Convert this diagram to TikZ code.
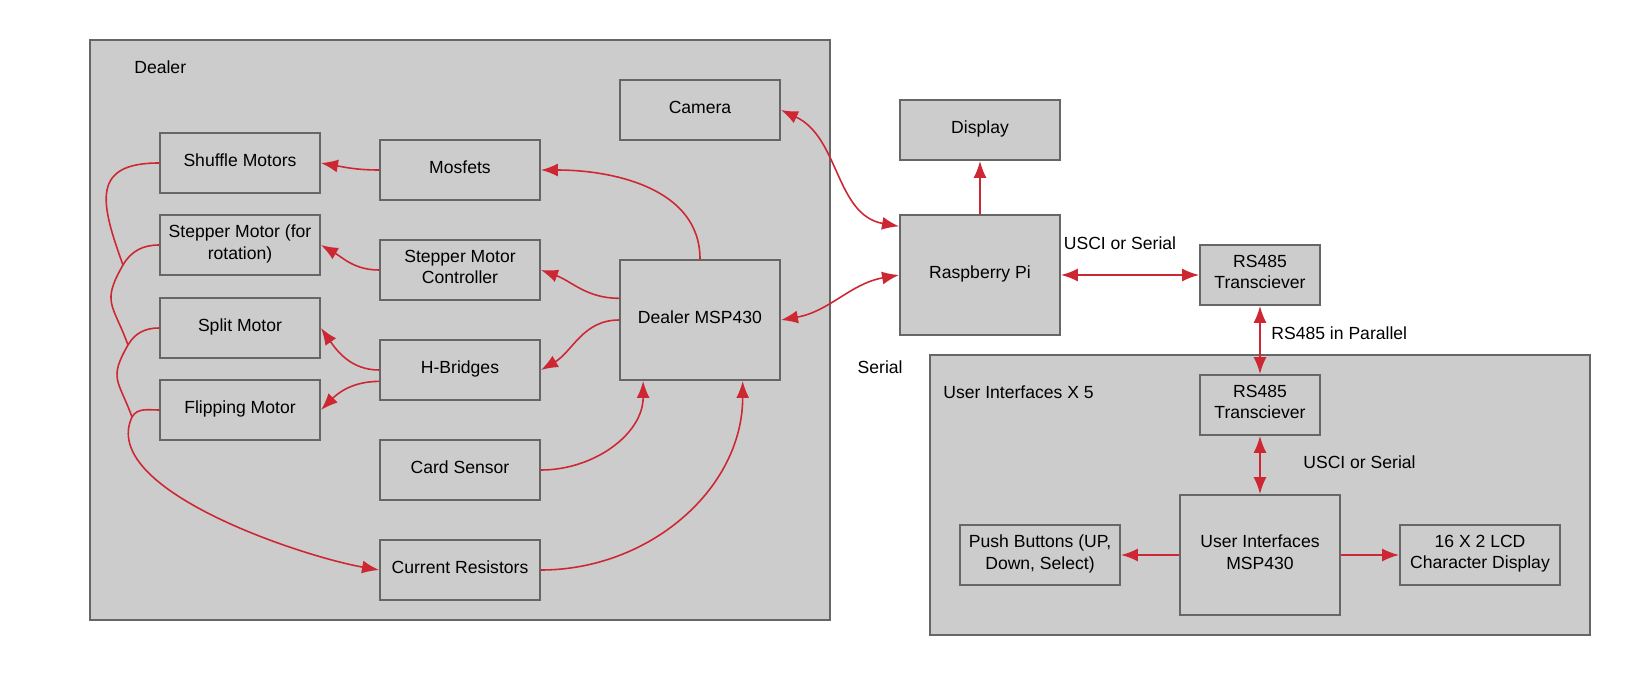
\documentclass[tikz,border=0pt]{standalone}
\usepackage{fontspec}
\setmainfont{Liberation Sans}
\usetikzlibrary{arrows.meta}
\definecolor{boxgray}{RGB}{204,204,204}
\definecolor{edgegray}{RGB}{102,102,102}
\definecolor{wirered}{RGB}{206,39,52}
\tikzset{blk/.style={draw=edgegray,fill=boxgray,line width=1.1pt,minimum width=32mm,minimum height=12mm,align=center,inner sep=1pt,text depth=3.5pt,font=\fontsize{10}{12.3}\selectfont},
bigblk/.style={blk,minimum height=24mm},smallblk/.style={blk,minimum width=24mm},
cont/.style={draw=edgegray,fill=boxgray,line width=1.1pt},
lbl/.style={inner sep=0pt,font=\fontsize{10}{12.3}\selectfont},
bus/.style={draw=wirered,line width=.9pt},
wire/.style={bus,-{Latex[length=3.4mm,width=2.6mm]}},
wires/.style={bus,{Latex[length=3.4mm,width=2.6mm]}-{Latex[length=3.4mm,width=2.6mm]}}}
\begin{document}
\begin{tikzpicture}[x=0.2mm,y=-0.2mm]
\useasboundingbox(0,0)rectangle(1630,675);
\draw[cont](90,40)rectangle(830,620);\draw[cont](930,355)rectangle(1590,635);
\node[lbl,anchor=west](dlr)at(134,67){Dealer};\node[lbl,anchor=west](uix)at(943,392){User Interfaces X 5};
\foreach\n/\y/\t in{shuf/163/{Shuffle Motors},step/245/{Stepper Motor (for\\rotation)},split/328/{Split Motor},flip/410/{Flipping Motor}}{\node[blk](\n)at(240,\y){\t};}
\foreach\n/\y/\t in{mos/170/{Mosfets},smc/270/{Stepper Motor\\Controller},hb/370/{H-Bridges},card/470/{Card Sensor},cur/570/{Current Resistors}}{\node[blk](\n)at(460,\y){\t};}
\node[blk](cam)at(700,110){Camera};\node[bigblk](msp)at(700,320){Dealer MSP430};
\node[blk](disp)at(980,130){Display};\node[bigblk](rpi)at(980,275){Raspberry Pi};
\node[smallblk](rs1)at(1260,275){RS485\\Transciever};\node[smallblk](rs2)at(1260,405){RS485\\Transciever};
\node[bigblk](ui)at(1260,555){User Interfaces\\MSP430};
\node[blk](push)at(1040,555){Push Buttons (UP,\\Down, Select)};\node[blk](lcd)at(1480,555){16 X 2 LCD\\Character Display};
\node[lbl](usci1)at(1120,243){USCI or Serial};\node[lbl,anchor=west](par)at(1271,333){RS485 in Parallel};
\node[lbl,anchor=east](ser)at(903,367){Serial};\node[lbl,anchor=west](usci2)at(1303,462){USCI or Serial};
\draw[wire](mos.west)to[out=180,in=-10](shuf.east);\draw[wire](smc.west)to[out=180,in=-30](step.east);
\draw[wire](hb.west)to[out=180,in=-55](split.east);\draw[wire](hb.188)to[out=180,in=45](flip.east);
\draw[wire](msp.north)to[out=90,in=0](mos.east);\draw[wire](msp.165)to[out=180,in=-20](smc.east);
\draw[wire](msp.west)to[out=180,in=30](hb.east);
\draw[wire](card.east)to[out=0,in=-90](msp.227);\draw[wire](cur.east)to[out=0,in=-90](msp.305);
\draw[wires](cam.east)to[out=-25,in=170](rpi.149);\draw[wires](msp.east)to[out=10,in=190](rpi.west);
\draw[wire](rpi.north)--(disp.south);\draw[wires](rpi.east)--(rs1.west);
\draw[wires](rs1.south)--(rs2.north);\draw[wires](rs2.south)--(ui.north);
\draw[wire](ui.west)--(push.east);\draw[wire](ui.east)--(lcd.west);
\coordinate(j1)at(123,265);\coordinate(j2)at(128,345);\coordinate(j3)at(132,417);
\draw[bus](shuf.west)to[out=180,in=110,looseness=1.6](j1);
\draw[bus](step.west)to[out=180,in=60](j1)to[out=240,in=110,looseness=1.4](j2);
\draw[bus](split.west)to[out=180,in=60](j2)to[out=240,in=110,looseness=1.4](j3);
\draw[wire](flip.west)to[out=180,in=60](j3)to[out=245,in=170,looseness=.7](cur.west);
\end{tikzpicture}
\end{document}
